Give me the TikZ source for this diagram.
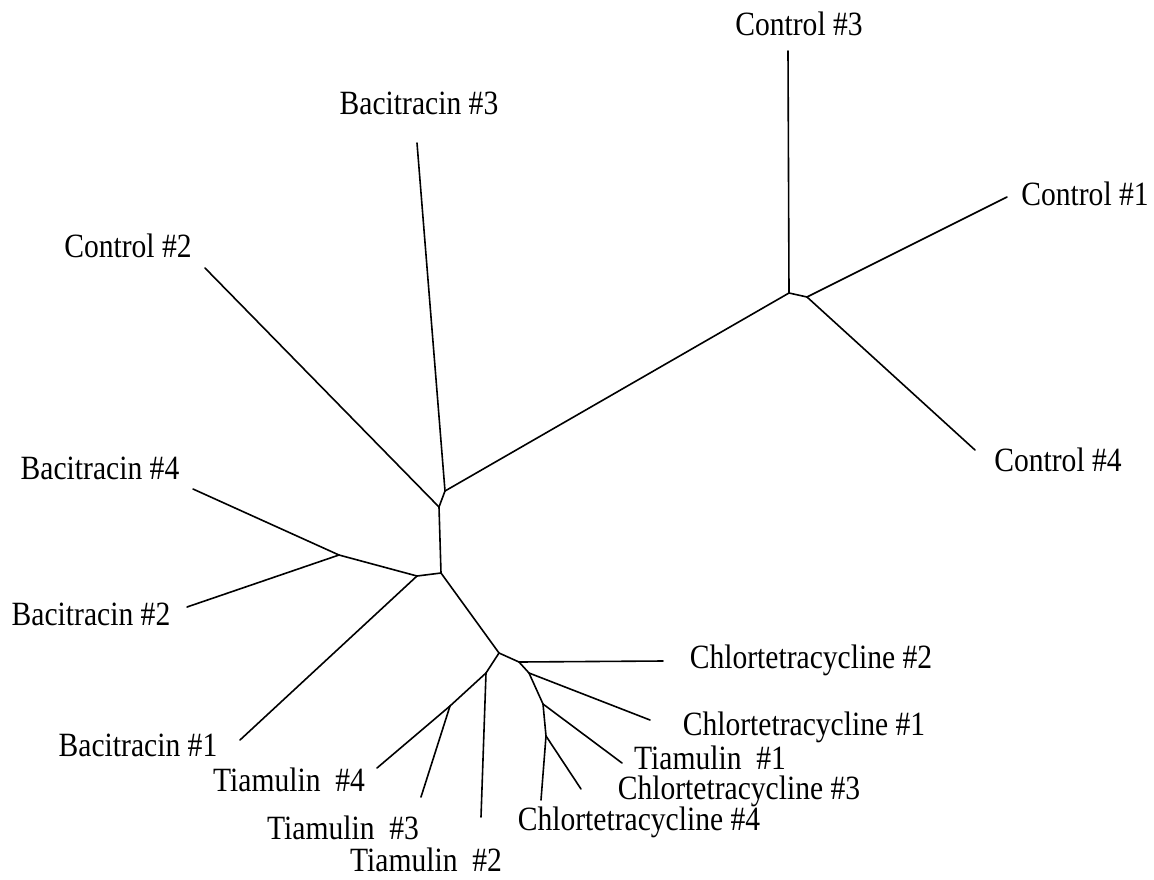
\documentclass[tikz,border=0pt]{standalone}
\usepackage{fontspec}
\setmainfont[FakeStretch=0.87]{Liberation Serif}
\begin{document}
\begin{tikzpicture}[x=1pt,y=-1pt,
  edge/.style={line width=1.6pt,line cap=round,line join=round},
  lbl/.style={anchor=base,inner sep=0pt,font=\fontsize{34}{40}\selectfont}]
\useasboundingbox (0,0) rectangle (1154,879);
% internal nodes
\coordinate (A) at (445,491);
\coordinate (B) at (439,507);
\coordinate (C) at (441,573);
\coordinate (D) at (417,576);
\coordinate (E) at (339,555);
\coordinate (F) at (499,653);
\coordinate (G) at (519,662);
\coordinate (H) at (486,673);
\coordinate (I) at (529,673);
\coordinate (J) at (543,704);
\coordinate (K) at (546,736);
\coordinate (L) at (450,706);
\coordinate (M) at (789,293);
\coordinate (N) at (807,297);
% leaves
\coordinate (c3) at (788,51);
\coordinate (c1) at (1007,197);
\coordinate (c4) at (975,450);
\coordinate (c2) at (205,268);
\coordinate (b3) at (417,143);
\coordinate (b4) at (193,489);
\coordinate (b2) at (187,607);
\coordinate (b1) at (240,740);
\coordinate (ch2) at (663,661);
\coordinate (ch1) at (650,720);
\coordinate (t1) at (622,763);
\coordinate (ch3) at (581,789);
\coordinate (ch4) at (541,800);
\coordinate (t2) at (481,817);
\coordinate (t3) at (421,797);
\coordinate (t4) at (377,768);
% edges
\draw[edge] (A) -- (b3);
\draw[edge] (A) -- (M);
\draw[edge] (A) -- (B);
\draw[edge] (B) -- (c2);
\draw[edge] (B) -- (C);
\draw[edge] (C) -- (D);
\draw[edge] (C) -- (F);
\draw[edge] (D) -- (E);
\draw[edge] (D) -- (b1);
\draw[edge] (E) -- (b4);
\draw[edge] (E) -- (b2);
\draw[edge] (F) -- (G);
\draw[edge] (F) -- (H);
\draw[edge] (G) -- (ch2);
\draw[edge] (G) -- (I);
\draw[edge] (I) -- (ch1);
\draw[edge] (I) -- (J);
\draw[edge] (J) -- (t1);
\draw[edge] (J) -- (K);
\draw[edge] (K) -- (ch3);
\draw[edge] (K) -- (ch4);
\draw[edge] (H) -- (t2);
\draw[edge] (H) -- (L);
\draw[edge] (L) -- (t3);
\draw[edge] (L) -- (t4);
\draw[edge] (M) -- (c3);
\draw[edge] (M) -- (N);
\draw[edge] (N) -- (c1);
\draw[edge] (N) -- (c4);
% labels
\node[lbl] (lc3) at (799,35) {Control \#3};
\node[lbl] (lb3) at (419,114) {Bacitracin \#3};
\node[lbl] (lc1) at (1085,205) {Control \#1};
\node[lbl] (lc2) at (128,257) {Control \#2};
\node[lbl] (lc4) at (1058,471) {Control \#4};
\node[lbl] (lb4) at (100,479) {Bacitracin \#4};
\node[lbl] (lb2) at (91,625) {Bacitracin \#2};
\node[lbl] (lb1) at (138,756) {Bacitracin \#1};
\node[lbl] (lch2) at (811,668) {Chlortetracycline \#2};
\node[lbl] (lch1) at (804,735) {Chlortetracycline \#1};
\node[lbl] (lt1) at (710,769) {Tiamulin\ \ \#1};
\node[lbl] (lch3) at (739,799) {Chlortetracycline \#3};
\node[lbl] (lch4) at (639,830) {Chlortetracycline \#4};
\node[lbl] (lt4) at (289,791) {Tiamulin\ \ \#4};
\node[lbl] (lt3) at (343,839) {Tiamulin\ \ \#3};
\node[lbl] (lt2) at (426,871) {Tiamulin\ \ \#2};
\end{tikzpicture}
\end{document}
